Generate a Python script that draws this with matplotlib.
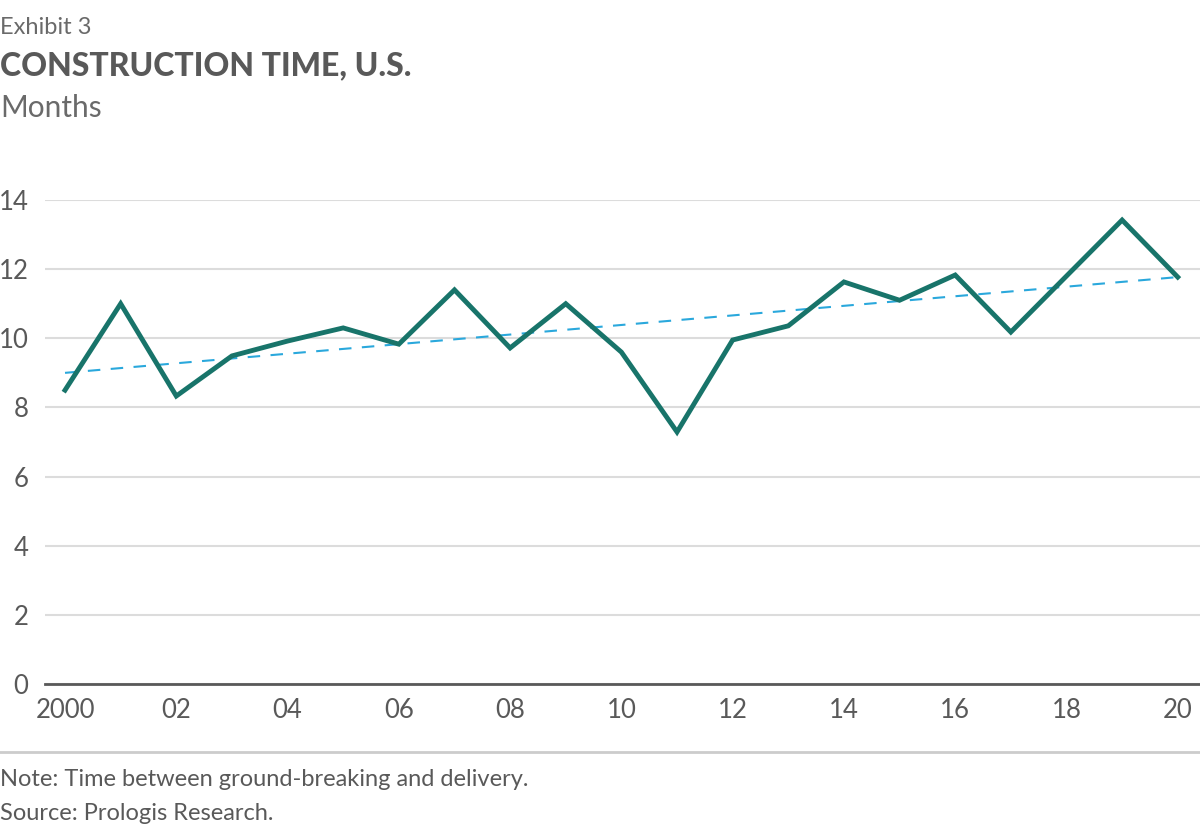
import matplotlib
matplotlib.use("Agg")
import matplotlib.pyplot as plt
from matplotlib.lines import Line2D

years = list(range(2000, 2021))
months = [8.5, 11.0, 8.33, 9.49, 9.92, 10.3, 9.83, 11.4, 9.72, 11.0, 9.6,
          7.29, 9.95, 10.36, 11.63, 11.1, 11.83, 10.18, 11.8, 13.42, 11.77]
trend_years = [2000, 2020]
trend_vals = [9.0, 11.77]
xticks = list(range(2000, 2021, 2))
xticklabels = ["2000", "02", "04", "06", "08", "10", "12", "14", "16", "18", "20"]
yticks = [0, 2, 4, 6, 8, 10, 12, 14]

FONT = ["Lato", "DejaVu Sans"]
plt.rcParams["font.family"] = FONT
GREY = "#595959"

fig = plt.figure(figsize=(12, 8.34), dpi=100)
ax = fig.add_axes([0.0375, 150/834, 1 - 0.0375, 484/834])

ax.plot(years, months, color="#18746a", lw=3.5, solid_joinstyle="miter", zorder=3)
ax.plot(trend_years, trend_vals, color="#2aa8dc", lw=1.5, dashes=(6, 5), zorder=2)

ax.set_xlim(1999.64, 2020.4)
ax.set_ylim(0, 14)
ax.set_yticks(yticks)
ax.set_xticks(xticks)
ax.set_xticklabels(xticklabels)
ax.yaxis.grid(True, color="#dcdcdc", lw=1.5)
ax.set_axisbelow(True)
for s in ["top", "right", "left"]:
    ax.spines[s].set_visible(False)
ax.spines["bottom"].set_color(GREY)
ax.spines["bottom"].set_linewidth(2)
ax.spines["bottom"].set_zorder(4)
ax.tick_params(axis="both", length=0, labelsize=18.5, colors=GREY)
ax.tick_params(axis="y", pad=12)
ax.tick_params(axis="x", pad=10)

fig.text(0.0, 1 - 28/834, "Exhibit 3", fontsize=17, fontweight="normal", color="#6a6a6a", va="center", ha="left")
fig.text(0.0, 1 - 66/834, "CONSTRUCTION TIME, U.S.", fontsize=23, fontweight="black", color=GREY, va="center", ha="left")
fig.text(0.0, 1 - 108/834, "Months", fontsize=21.5, fontweight="normal", color="#6a6a6a", va="center", ha="left")

fig.add_artist(Line2D([0, 1], [1 - 752/834, 1 - 752/834], color="#cccccc", lw=2, transform=fig.transFigure))
fig.text(0.0, 1 - 780/834, "Note: Time between ground-breaking and delivery.", fontsize=17, color=GREY, va="center", ha="left")
fig.text(0.0, 1 - 813/834, "Source: Prologis Research.", fontsize=17, color=GREY, va="center", ha="left")

fig.savefig("out.png", dpi=100)
